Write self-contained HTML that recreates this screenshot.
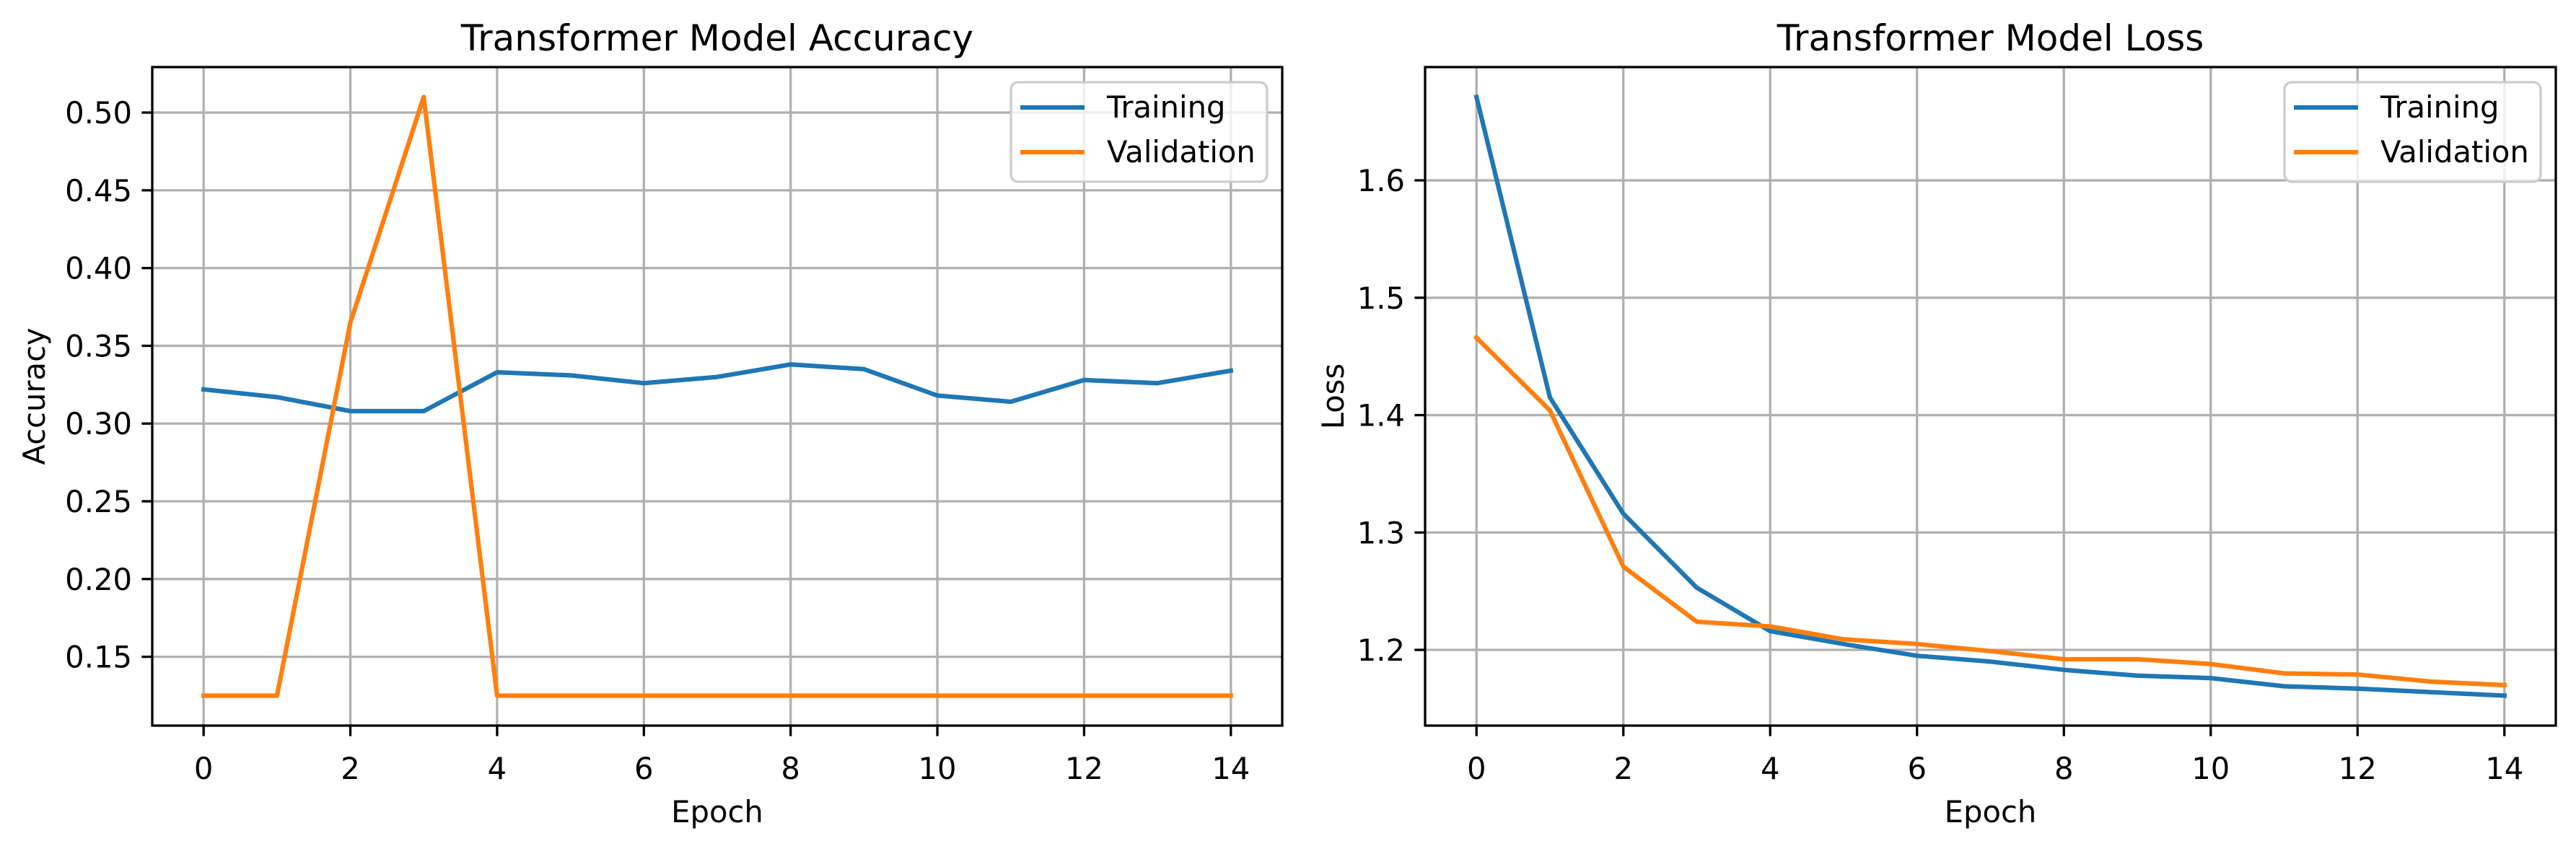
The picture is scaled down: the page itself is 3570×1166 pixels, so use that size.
<!DOCTYPE html>
<html><head><meta charset="utf-8"><style>
html,body{margin:0;padding:0;background:#fff;}
svg{display:block;font-family:"DejaVu Sans","Liberation Sans",sans-serif;}
</style></head><body>
<svg id="fig" width="3570" height="1166" viewBox="0 0 3570 1166" xmlns="http://www.w3.org/2000/svg">
<rect width="3570" height="1166" fill="#fff"/>
</svg>
<script>
const epochs = [0,1,2,3,4,5,6,7,8,9,10,11,12,13,14];
const accTrain = [0.322,0.317,0.308,0.308,0.333,0.331,0.326,0.330,0.338,0.335,0.318,0.314,0.328,0.326,0.334];
const accVal = [0.125,0.125,0.365,0.510,0.125,0.125,0.125,0.125,0.125,0.125,0.125,0.125,0.125,0.125,0.125];
const lossTrain = [1.671,1.415,1.316,1.253,1.216,1.205,1.195,1.190,1.183,1.178,1.176,1.169,1.167,1.164,1.161];
const lossVal = [1.466,1.404,1.271,1.224,1.220,1.209,1.205,1.199,1.192,1.192,1.188,1.180,1.179,1.173,1.170];
const xTicks = [0,2,4,6,8,10,12,14];
const accTicks = [0.15,0.20,0.25,0.30,0.35,0.40,0.45,0.50];
const lossTicks = [1.2,1.3,1.4,1.5,1.6];

const NS = "http://www.w3.org/2000/svg";
const svg = document.getElementById('fig');
function mk(tag, attrs, parent, text){
  const e = document.createElementNS(NS, tag);
  for (const k in attrs) e.setAttribute(k, attrs[k]);
  if (text !== undefined) e.textContent = text;
  (parent||svg).appendChild(e);
  return e;
}
function panel(cfg){
  const L=cfg.left, R=cfg.right, T=93, B=1006;
  const g = mk('g', {});
  
  
  const all = cfg.series.flatMap(s=>s.values);
  const mn = Math.min(...all), mx = Math.max(...all), pad=(mx-mn)*0.05;
  const y0 = mn-pad, y1 = mx+pad;
  const xs = v => L + (v + 0.7) / 15.4 * (R - L);
  const ys = v => B - (v - y0) / (y1 - y0) * (B - T);
  // grid
  xTicks.forEach(t=>{
    const l = mk('line',{x1:xs(t),x2:xs(t),y1:T,y2:B,stroke:'#b0b0b0','stroke-width':3.3},g);
    
    
  });
  cfg.yTicks.forEach(t=>{
    const l = mk('line',{x1:L,x2:R,y1:ys(t),y2:ys(t),stroke:'#b0b0b0','stroke-width':3.3},g);
    
    
  });
  // series
  cfg.series.forEach(s=>{
    const pts = epochs.map((e,i)=>xs(e).toFixed(1)+','+ys(s.values[i]).toFixed(1)).join(' ');
    const p = mk('polyline',{points:pts,fill:'none',stroke:s.color,'stroke-width':6.25,'stroke-linejoin':'round','stroke-linecap':'square'},g);
    
    
  });
  // frame
  const fr = mk('rect',{x:L,y:T,width:R-L,height:B-T,fill:'none',stroke:'#000','stroke-width':3.3},g);
  
  
  // x ticks
  xTicks.forEach(t=>{
    mk('line',{x1:xs(t),x2:xs(t),y1:B,y2:B+14.6,stroke:'#000','stroke-width':3.3},g);
    const tx = mk('text',{x:xs(t),y:1080,'font-size':41.7,'text-anchor':'middle',fill:'#000'},g,String(t));
    
    
  });
  cfg.yTicks.forEach(t=>{
    mk('line',{x1:L-14.6,x2:L,y1:ys(t),y2:ys(t),stroke:'#000','stroke-width':3.3},g);
    const tx = mk('text',{x:L-28,y:ys(t)+15,'font-size':41.7,'text-anchor':'end',fill:'#000'},g,t.toFixed(cfg.dec));
    
    
  });
  const ti = mk('text',{x:(L+R)/2,y:70,'font-size':50,'text-anchor':'middle',fill:'#000'},g,cfg.title);
  
  
  const xl = mk('text',{x:(L+R)/2,y:1140,'font-size':41.7,'text-anchor':'middle',fill:'#000'},g,'Epoch');
  
  
  const yl = mk('text',{x:0,y:0,'font-size':41.7,'text-anchor':'middle',fill:'#000',transform:`translate(${cfg.ylx},${(T+B)/2}) rotate(-90)`},g,cfg.ylabel);
  
  
  // legend
  const lx = R-21-355, ly = 114;
  const lg = mk('g',{},g);
  
  
  mk('rect',{x:lx,y:ly,width:355,height:138,rx:10,fill:'#fff','fill-opacity':0.8,stroke:'#cccccc','stroke-width':3.3},lg);
  cfg.series.forEach((s,i)=>{
    const yy = 149 + i*62;
    const ent = mk('g',{},lg);
    
    
    mk('line',{x1:lx+13,x2:lx+102,y1:yy,y2:yy,stroke:s.color,'stroke-width':6.25},ent);
    mk('text',{x:lx+133,y:yy+14,'font-size':41.7,fill:'#000'},ent,s.label);
  });
}
panel({name:'accuracy-chart',left:211,right:1777,title:'Transformer Model Accuracy',ylabel:'Accuracy',ylx:62,yTicks:accTicks,dec:2,
  series:[{name:'training-accuracy-line',label:'Training',values:accTrain,color:'#1f77b4'},{name:'validation-accuracy-line',label:'Validation',values:accVal,color:'#ff7f0e'}]});
panel({name:'loss-chart',left:1975,right:3542,title:'Transformer Model Loss',ylabel:'Loss',ylx:1862,yTicks:lossTicks,dec:1,
  series:[{name:'training-loss-line',label:'Training',values:lossTrain,color:'#1f77b4'},{name:'validation-loss-line',label:'Validation',values:lossVal,color:'#ff7f0e'}]});
</script>
</body></html>
